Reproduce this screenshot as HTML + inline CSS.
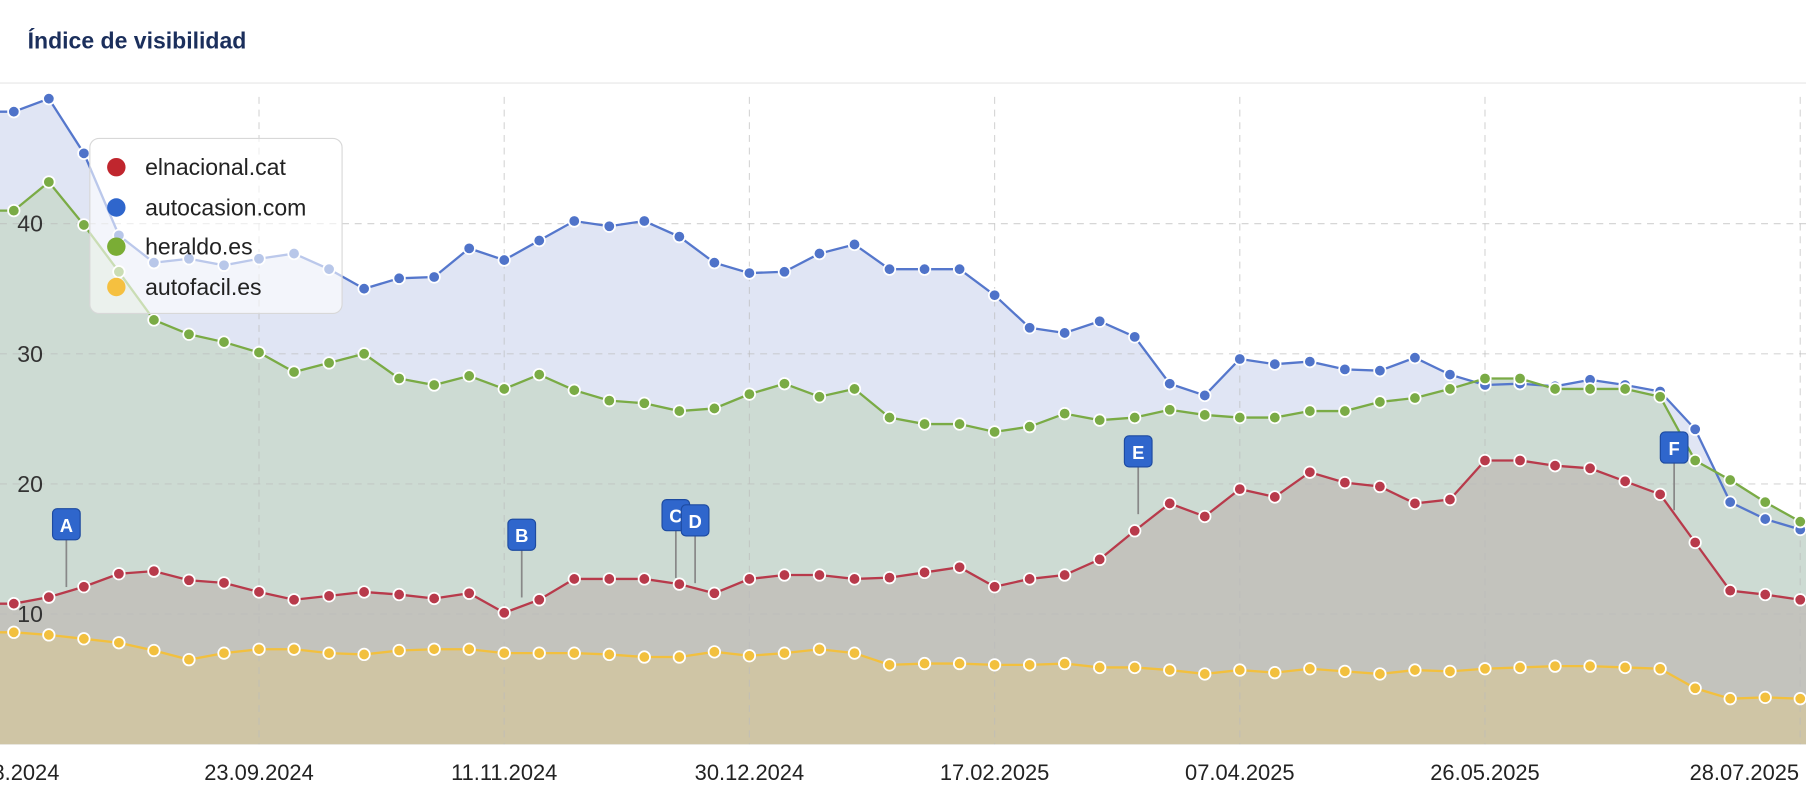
<!DOCTYPE html>
<html><head><meta charset="utf-8"><style>
html,body{margin:0;padding:0;background:#fff;width:1806px;height:802px;overflow:hidden}
svg{display:block;font-family:"Liberation Sans",sans-serif}
</style></head><body>
<svg id="chart" width="1806" height="802" viewBox="0 0 1568 696" xmlns="http://www.w3.org/2000/svg">
<rect x="0" y="0" width="1568" height="696" fill="#fff"/>
<text x="24" y="42" font-size="20" font-weight="bold" fill="#1b2f5c">Índice de visibilidad</text>
<line x1="0" y1="72" x2="1568" y2="72" stroke="#e6e6e6" stroke-width="1"/>
<g id="fills"></g><g id="grid"></g><g id="lines"></g><g id="markers"></g><g id="axes"></g>
<g>
<rect x="78" y="120" width="219" height="152" rx="8" fill="#fff" fill-opacity="0.6" stroke="#d8d8d8"/>
<g><circle cx="101" cy="145" r="8" fill="#c0262e"/><text x="126" y="152" font-size="20" fill="#222">elnacional.cat</text></g>
<g><circle cx="101" cy="180" r="8" fill="#2f66cc"/><text x="126" y="187" font-size="20" fill="#222">autocasion.com</text></g>
<g><circle cx="101" cy="214" r="8" fill="#7aad35"/><text x="126" y="221" font-size="20" fill="#222">heraldo.es</text></g>
<g><circle cx="101" cy="249" r="8" fill="#f5c040"/><text x="126" y="256" font-size="20" fill="#222">autofacil.es</text></g>
</g>
</svg>
<script>
const autocasion=[48.6,49.6,45.4,39.1,37,37.3,36.8,37.3,37.7,36.5,35,35.8,35.9,38.1,37.2,38.7,40.2,39.8,40.2,39,37,36.2,36.3,37.7,38.4,36.5,36.5,36.5,34.5,32,31.6,32.5,31.3,27.7,26.8,29.6,29.2,29.4,28.8,28.7,29.7,28.4,27.6,27.7,27.5,28,27.6,27.1,24.2,18.6,17.3,16.5];
const heraldo=[41,43.2,39.9,36.3,32.6,31.5,30.9,30.1,28.6,29.3,30,28.1,27.6,28.3,27.3,28.4,27.2,26.4,26.2,25.6,25.8,26.9,27.7,26.7,27.3,25.1,24.6,24.6,24,24.4,25.4,24.9,25.1,25.7,25.3,25.1,25.1,25.6,25.6,26.3,26.6,27.3,28.1,28.1,27.3,27.3,27.3,26.7,21.8,20.3,18.6,17.1];
const elnacional=[10.8,11.3,12.1,13.1,13.3,12.6,12.4,11.7,11.1,11.4,11.7,11.5,11.2,11.6,10.1,11.1,12.7,12.7,12.7,12.3,11.6,12.7,13,13,12.7,12.8,13.2,13.6,12.1,12.7,13,14.2,16.4,18.5,17.5,19.6,19,20.9,20.1,19.8,18.5,18.8,21.8,21.8,21.4,21.2,20.2,19.2,15.5,11.8,11.5,11.1];
const autofacil=[8.6,8.4,8.1,7.8,7.2,6.5,7,7.3,7.3,7,6.9,7.2,7.3,7.3,7,7,7,6.9,6.7,6.7,7.1,6.8,7,7.3,7,6.1,6.2,6.2,6.1,6.1,6.2,5.9,5.9,5.7,5.4,5.7,5.5,5.8,5.6,5.4,5.7,5.6,5.8,5.9,6,6,5.9,5.8,4.3,3.5,3.6,3.5];
const yTicks=[10,20,30,40];
const xTickLabels=["05.08.2024","23.09.2024","11.11.2024","30.12.2024","17.02.2025","07.04.2025","26.05.2025","28.07.2025"];
const xTickIndex=[0,7,14,21,28,35,42,51];
const markerLabels=["A","B","C","D","E","F"];
const markerIndex=[1.5,14.5,18.9,19.45,32.1,47.4];
const markerValue=[11.9,11.1,12.6,12.2,17.5,17.8];

const NS="http://www.w3.org/2000/svg";
const x=i=>12+i*(1563-12)/51;
const y=v=>646-v*11.3;
function mk(tag,attrs,parent){const e=document.createElementNS(NS,tag);for(const k in attrs)e.setAttribute(k,attrs[k]);parent.appendChild(e);return e;}
const fills=document.getElementById('fills'),grid=document.getElementById('grid'),lines=document.getElementById('lines'),markers=document.getElementById('markers'),axes=document.getElementById('axes');
const series=[
 {name:'autocasion',d:autocasion,line:'#5577cc',dot:'#4f73c9',fill:'#e0e5f4'},
 {name:'heraldo',d:heraldo,line:'#7aab45',dot:'#7aab45',fill:'#cddbd3'},
 {name:'elnacional',d:elnacional,line:'#b83a4b',dot:'#b83a4b',fill:'#c3c3bd'},
 {name:'autofacil',d:autofacil,line:'#f2c03e',dot:'#f2c03e',fill:'#cfc5a5'}];
series.forEach(s=>{
 const n=s.d.length;
 let p=s.d.map((v,i)=>x(i)+','+y(v)).join(' L');
 const a=mk('path',{d:'M-5,'+y(0)+' L-5,'+y(s.d[0])+' L'+p+' L1570,'+y(s.d[n-1])+' L1570,'+y(0)+' Z',fill:s.fill},fills);
 
 
});
yTicks.forEach(t=>{
 const l=mk('line',{x1:0,x2:1568,y1:y(t),y2:y(t),stroke:'#bbb','stroke-dasharray':'6 5','stroke-opacity':0.6},grid);
 
 
 const tx=mk('text',{x:15,y:y(t)+7,'font-size':20,fill:'#333'},axes);
 tx.textContent=t;
 
 
});
xTickIndex.forEach((ix,k)=>{
 if(k>0){const l=mk('line',{x1:x(ix),x2:x(ix),y1:84,y2:646,stroke:'#bbb','stroke-dasharray':'6 5','stroke-opacity':0.6},grid);
 
 }
 const last=k===xTickIndex.length-1;
 const tx=mk('text',{x:last?1562:(k===0?x(ix)-8:x(ix)),y:677,'font-size':19,fill:'#222','text-anchor':last?'end':'middle'},axes);
 tx.textContent=xTickLabels[k];
 
 
});
series.forEach(s=>{
 const g=mk('g',{},lines);
 
 
 const pl=mk('polyline',{points:'-5,'+y(s.d[0])+' '+s.d.map((v,i)=>x(i)+','+y(v)).join(' '),fill:'none',stroke:s.line,'stroke-width':2},g);
 
 
 s.d.forEach((v,i)=>{
  const c=mk('circle',{cx:x(i),cy:y(v),r:5,fill:s.dot,stroke:'#fff','stroke-width':1.5},g);
  
  
 });
});
markerLabels.forEach((lb,k)=>{
 const cx=x(markerIndex[k]),by=y(markerValue[k])-70;
 const g=mk('g',{},markers);
 
 
 mk('line',{x1:cx,x2:cx,y1:by+26,y2:y(markerValue[k])-2,stroke:'#888','stroke-width':1.5},g);
 mk('rect',{x:cx-12,y:by,width:24,height:27,rx:4,fill:'#2f66cc',stroke:'#1d4aa0','stroke-width':1},g);
 const t=mk('text',{x:cx,y:by+20,'font-size':16,'font-weight':'bold',fill:'#fff','text-anchor':'middle'},g);
 t.textContent=lb;
});
</script>
</body></html>
